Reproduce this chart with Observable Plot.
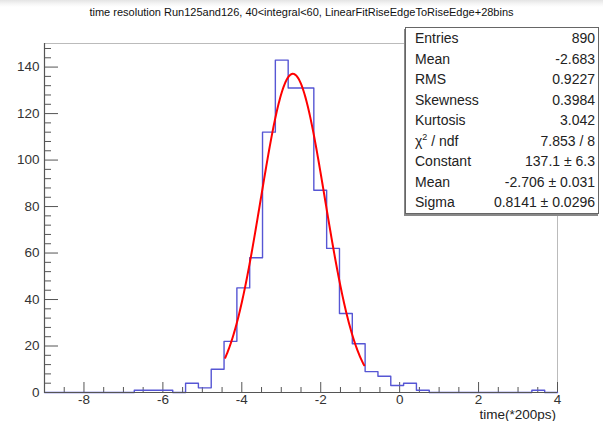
<!DOCTYPE html>
<html>
<head>
<meta charset="utf-8">
<script src="https://cdn.jsdelivr.net/npm/d3@7"></script>
<script src="https://cdn.jsdelivr.net/npm/@observablehq/plot@0.6"></script>
<style>
  html, body { margin: 0; padding: 0; background: #fff; }
  #wrap { position: relative; width: 603px; height: 421px; overflow: hidden;
          font-family: "Liberation Sans", Arial, Helvetica, sans-serif;
          background: linear-gradient(to bottom, #e4e4e4 0px, #f6f6f6 4px, #fff 7px); }
  #title { position: absolute; left: 0; top: 6px; width: 603px; text-align: center;
           font-size: 11px; color: #111; white-space: nowrap; }
  #stats { position: absolute; left: 405px; top: 27px; width: 194px; box-sizing: border-box;
           background: #fff; border: 1px solid #666; box-shadow: -1px 2px 0 #888;
           font-size: 14px; color: #222; }
  #stats .row { display: flex; justify-content: space-between; height: 20.5px; line-height: 20.5px;
                padding: 0 3px 0 9px; white-space: nowrap; }
  #xlabel { position: absolute; right: 47px; top: 407.5px; font-size: 13.5px; line-height: 1; color: #222; white-space: nowrap; }
  #chart { position: absolute; left: 0; top: 0; }
</style>
</head>
<body>
<div id="wrap">
  <div id="chart"></div>
  <div id="title"></div>
  <div id="stats"></div>
  <div id="xlabel"></div>
</div>
<script>
// ---- data ----
const titleText = "time resolution Run125and126, 40<integral<60, LinearFitRiseEdgeToRiseEdge+28bins";
const xAxisLabel = "time(*200ps)";
const histXMin = -9;
const histXMax = 4;
const binWidth = 0.325;
const binCounts = [0,0,0,0,0,0,0,1,1,1,0,4,2,10,22,45,58,112,143,131,131,87,62,34,21,9,7,3,4,1,0,0,0,0,0,0,0,0,1,0];
const xTickLabels = [-8,-6,-4,-2,0,2,4];
const yTickLabels = [0,20,40,60,80,100,120,140];
const yMax = 150.15;
// Gaussian fit parameters (Constant, Mean, Sigma) and fit range
const fitParams = [137.1, -2.706, 0.8141];
const fitRange = [-4.42, -0.90];
const statLabels = ["Entries","Mean","RMS","Skewness","Kurtosis","χ<sup style=\"font-size:9px;line-height:0\">2</sup> / ndf","Constant","Mean","Sigma"];
const statValues = ["890","-2.683","0.9227","0.3984","3.042","7.853 / 8","137.1 ± 6.3","-2.706 ± 0.031","0.8141 ± 0.0296"];

// ---- derived ----
const W = 603, H = 421;
const mL = 44, mR = 46, mT = 43, mB = 29;
const plotW = W - mL - mR, plotH = H - mT - mB;

const steps = binCounts.map((c, i) => ({x: histXMin + i * binWidth, y: c}));
steps.push({x: histXMin + binCounts.length * binWidth, y: binCounts[binCounts.length - 1]});

const [A, mu, sg] = fitParams;
const fitPts = d3.range(0, 201).map(i => {
  const x = fitRange[0] + (fitRange[1] - fitRange[0]) * i / 200;
  return {x, y: A * Math.exp(-0.5 * ((x - mu) / sg) ** 2)};
});

const xMinor = d3.range(histXMin + 0.5, histXMax, 0.5).filter(v => Math.abs(v / 2 - Math.round(v / 2)) > 1e-9);
const yMinor = d3.range(4, yMax, 4).filter(v => v % 20 !== 0);

const chart = Plot.plot({
  width: W, height: H,
  marginLeft: mL, marginRight: mR, marginTop: mT, marginBottom: mB,
  x: {domain: [histXMin, histXMax]},
  y: {domain: [0, yMax]},
  style: {fontFamily: "'Liberation Sans', Arial, Helvetica, sans-serif", fontSize: "13.5px", color: "#333", background: "transparent", overflow: "visible"},
  marks: [
    Plot.ruleY([yMax], {stroke: "#bbb", strokeWidth: 1}),
    Plot.ruleX([histXMax], {stroke: "#bbb", strokeWidth: 1}),
    Plot.tickX(xTickLabels, {x: d => d, insetTop: plotH - 10, stroke: "#555"}),
    Plot.tickX(xMinor, {x: d => d, insetTop: plotH - 5, stroke: "#555"}),
    Plot.tickY(yTickLabels, {y: d => d, insetRight: plotW - 14, stroke: "#555"}),
    Plot.tickY(yMinor, {y: d => d, insetRight: plotW - 7, stroke: "#555"}),
    Plot.line(steps, {x: "x", y: "y", curve: "step-after", stroke: "#5656d4", strokeWidth: 1.4}),
    Plot.line(fitPts, {x: "x", y: "y", stroke: "#ff0000", strokeWidth: 2}),
    Plot.ruleY([0], {stroke: "#555", strokeWidth: 1.2}),
    Plot.ruleX([histXMin], {stroke: "#555", strokeWidth: 1.2}),
    Plot.axisX({ticks: xTickLabels, tickSize: 0, tickPadding: 2, tickFormat: d => String(d), label: null}),
    Plot.axisY({ticks: yTickLabels, tickSize: 0, tickPadding: 5, tickFormat: d => String(d), label: null})
  ]
});
document.getElementById("chart").appendChild(chart);
document.getElementById("title").textContent = titleText;
document.getElementById("xlabel").textContent = xAxisLabel;
document.getElementById("stats").innerHTML = statLabels.map((l, i) =>
  `<div class="row"><span>${l}</span><span>${statValues[i]}</span></div>`).join("");
</script>
</body>
</html>
